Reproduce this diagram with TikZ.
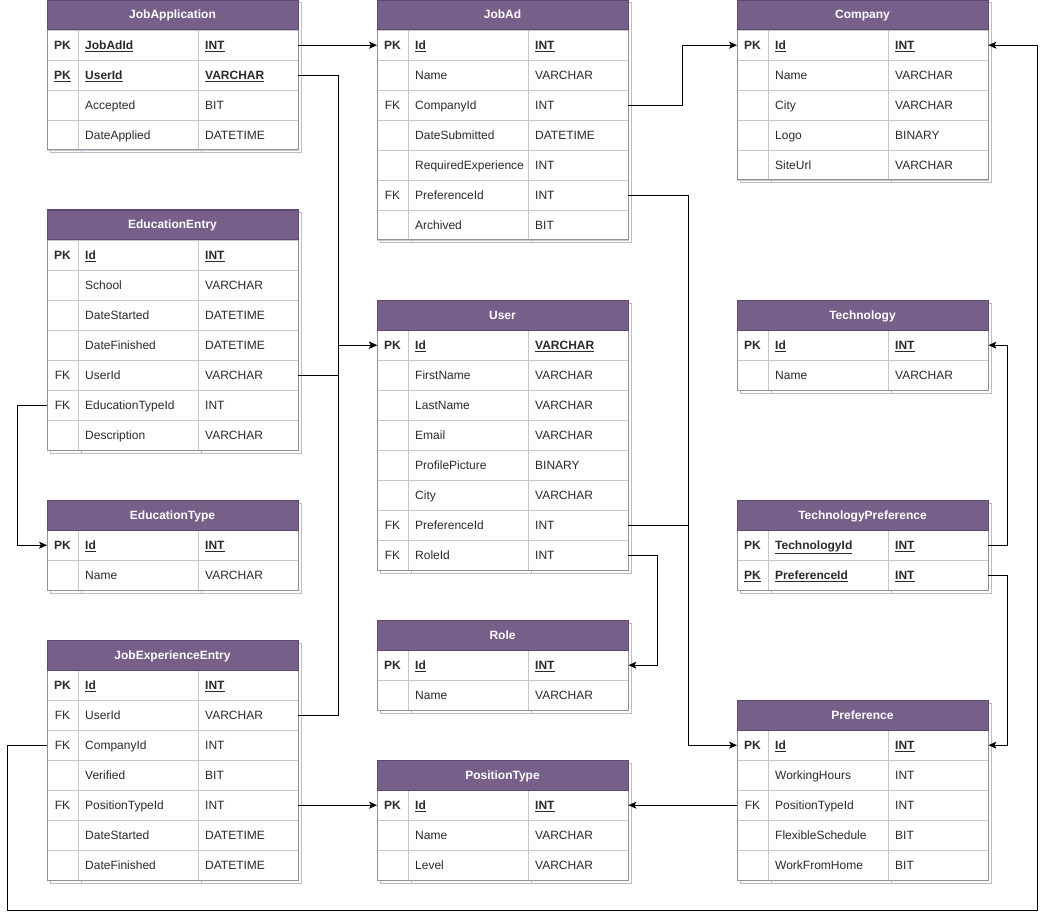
\documentclass[tikz,border=0pt]{standalone}
\usepackage{fontspec}
\setmainfont{Liberation Sans}
\usetikzlibrary{arrows.meta}
\definecolor{hdrfill}{HTML}{76608A}
\definecolor{hdrline}{HTML}{5E4A70}
\definecolor{rowline}{HTML}{CBC5D1}
\definecolor{tborder}{HTML}{958F9C}
\definecolor{shadowc}{HTML}{BDBDBD}
\definecolor{txtc}{HTML}{2A2A2A}
\tikzset{
  hdr/.style={draw=hdrline, fill=hdrfill, anchor=north west,
    minimum width=251pt, minimum height=30pt, inner sep=0pt},
  hdrtxt/.style={text=white, anchor=base, inner sep=0pt, font=\fontsize{12}{14}\selectfont\bfseries},
  rowbox/.style={draw=rowline, fill=white, anchor=north west, minimum width=251pt,
    minimum height=30pt, inner sep=0pt},
  celltxt/.style={text=txtc, inner sep=0pt, font=\fontsize{12}{14}\selectfont},
  conn/.style={draw=black, line width=1pt, -{Stealth[length=8pt,width=7pt,inset=2pt]}},
  joinline/.style={draw=black, line width=1pt},
}
\newcommand\ertable[6]{%
  \draw[shadowc, line width=1pt] (#2+3,#3+3) rectangle (#2+254,#3+33+30*#5);
  \draw[shadowc, line width=1pt] (#2+34,#3+30+30*#5) -- ++(0,3) (#2+154,#3+30+30*#5) -- ++(0,3);
  \fill[white] (#2,#3) rectangle (#2+251,#3+30+30*#5);
  \node[hdr] (#1) at (#2,#3) {};
  \node[hdrtxt] at (#2+125.5,#3+19) {#4};
  \foreach \ka/\na/\ta/\fa [count=\i] in {#6} {
    \node[rowbox] (#1-\i) at (#2,#3+30*\i) {};
    \draw[rowline, line width=1pt] (#2+31,#3+30*\i) -- ++(0,30) (#2+151,#3+30*\i) -- ++(0,30);
    \node[celltxt, anchor=base] at (#2+15.5,#3+30*\i+19.5) {\ifnum\fa=2 \textbf{\underline{\ka}}\else\ifnum\fa=1 \textbf{\ka}\else \ka\fi\fi};
    \node[celltxt, anchor=base west] at (#2+38,#3+30*\i+19.5) {\ifnum\fa>0 \textbf{\underline{\na}}\else \na\fi};
    \node[celltxt, anchor=base west] at (#2+158,#3+30*\i+19.5) {\ifnum\fa>0 \textbf{\underline{\ta}}\else \ta\fi};
  }
  \draw[tborder, line width=1pt] (#2,#3) rectangle (#2+251,#3+30+30*#5);
  \draw[hdrline, line width=1pt] (#2,#3) rectangle (#2+251,#3+30);
}
\begin{document}
\begin{tikzpicture}[x=1pt, y=-1pt]
\useasboundingbox (0,0) rectangle (1047,920);
\fill[white] (0,0) rectangle (1047,920);

\ertable{JA}{47}{0}{JobApplication}{4}{PK/JobAdId/INT/1, PK/UserId/VARCHAR/2, /Accepted/BIT/0, /DateApplied/DATETIME/0}
\ertable{JobAd}{377}{0}{JobAd}{7}{PK/Id/INT/1, /Name/VARCHAR/0, FK/CompanyId/INT/0, /DateSubmitted/DATETIME/0, /RequiredExperience/INT/0, FK/PreferenceId/INT/0, /Archived/BIT/0}
\ertable{Company}{737}{0}{Company}{5}{PK/Id/INT/1, /Name/VARCHAR/0, /City/VARCHAR/0, /Logo/BINARY/0, /SiteUrl/VARCHAR/0}
\ertable{EduE}{47}{210}{EducationEntry}{7}{PK/Id/INT/1, /School/VARCHAR/0, /DateStarted/DATETIME/0, /DateFinished/DATETIME/0, FK/UserId/VARCHAR/0, FK/EducationTypeId/INT/0, /Description/VARCHAR/0}
\ertable{EduT}{47}{500}{EducationType}{2}{PK/Id/INT/1, /Name/VARCHAR/0}
\ertable{JobExp}{47}{640}{JobExperienceEntry}{7}{PK/Id/INT/1, FK/UserId/VARCHAR/0, FK/CompanyId/INT/0, /Verified/BIT/0, FK/PositionTypeId/INT/0, /DateStarted/DATETIME/0, /DateFinished/DATETIME/0}
\ertable{User}{377}{300}{User}{8}{PK/Id/VARCHAR/1, /FirstName/VARCHAR/0, /LastName/VARCHAR/0, /Email/VARCHAR/0, /ProfilePicture/BINARY/0, /City/VARCHAR/0, FK/PreferenceId/INT/0, FK/RoleId/INT/0}
\ertable{Role}{377}{620}{Role}{2}{PK/Id/INT/1, /Name/VARCHAR/0}
\ertable{PosT}{377}{760}{PositionType}{3}{PK/Id/INT/1, /Name/VARCHAR/0, /Level/VARCHAR/0}
\ertable{Tech}{737}{300}{Technology}{2}{PK/Id/INT/1, /Name/VARCHAR/0}
\ertable{TechP}{737}{500}{TechnologyPreference}{2}{PK/TechnologyId/INT/1, PK/PreferenceId/INT/2}
\ertable{Pref}{737}{700}{Preference}{5}{PK/Id/INT/1, /WorkingHours/INT/0, FK/PositionTypeId/INT/0, /FlexibleSchedule/BIT/0, /WorkFromHome/BIT/0}

\coordinate (loopBL) at (7,910);
\coordinate (loopBR) at (1037,910);

\draw[conn] (JA-1.east) -- (JobAd-1.west);
\draw[conn] (JA-2.east) -- ++(40,0) |- (User-1.west);
\draw[joinline] (EduE-5.east) -- ++(40,0);
\draw[conn] (JobExp-2.east) -- ++(40,0) |- (User-1.west);
\draw[conn] (EduE-6.west) -- ++(-30,0) |- (EduT-1.west);
\draw[conn] (JobAd-3.east) -- ++(54,0) |- (Company-1.west);
\draw[conn] (JobAd-6.east) -- ++(60,0) |- (Pref-1.west);
\draw[joinline] (User-7.east) -- ++(60,0);
\draw[conn] (User-8.east) -- ++(29,0) |- (Role-1.east);
\draw[conn] (JobExp-3.west) -| (loopBL) -- (loopBR) |- (Company-1.east);
\draw[conn] (JobExp-5.east) -- (PosT-1.west);
\draw[conn] (Pref-3.west) -- (PosT-1.east);
\draw[conn] (TechP-1.east) -- ++(19,0) |- (Tech-1.east);
\draw[conn] (TechP-2.east) -- ++(19,0) |- (Pref-1.east);
\end{tikzpicture}
\end{document}
